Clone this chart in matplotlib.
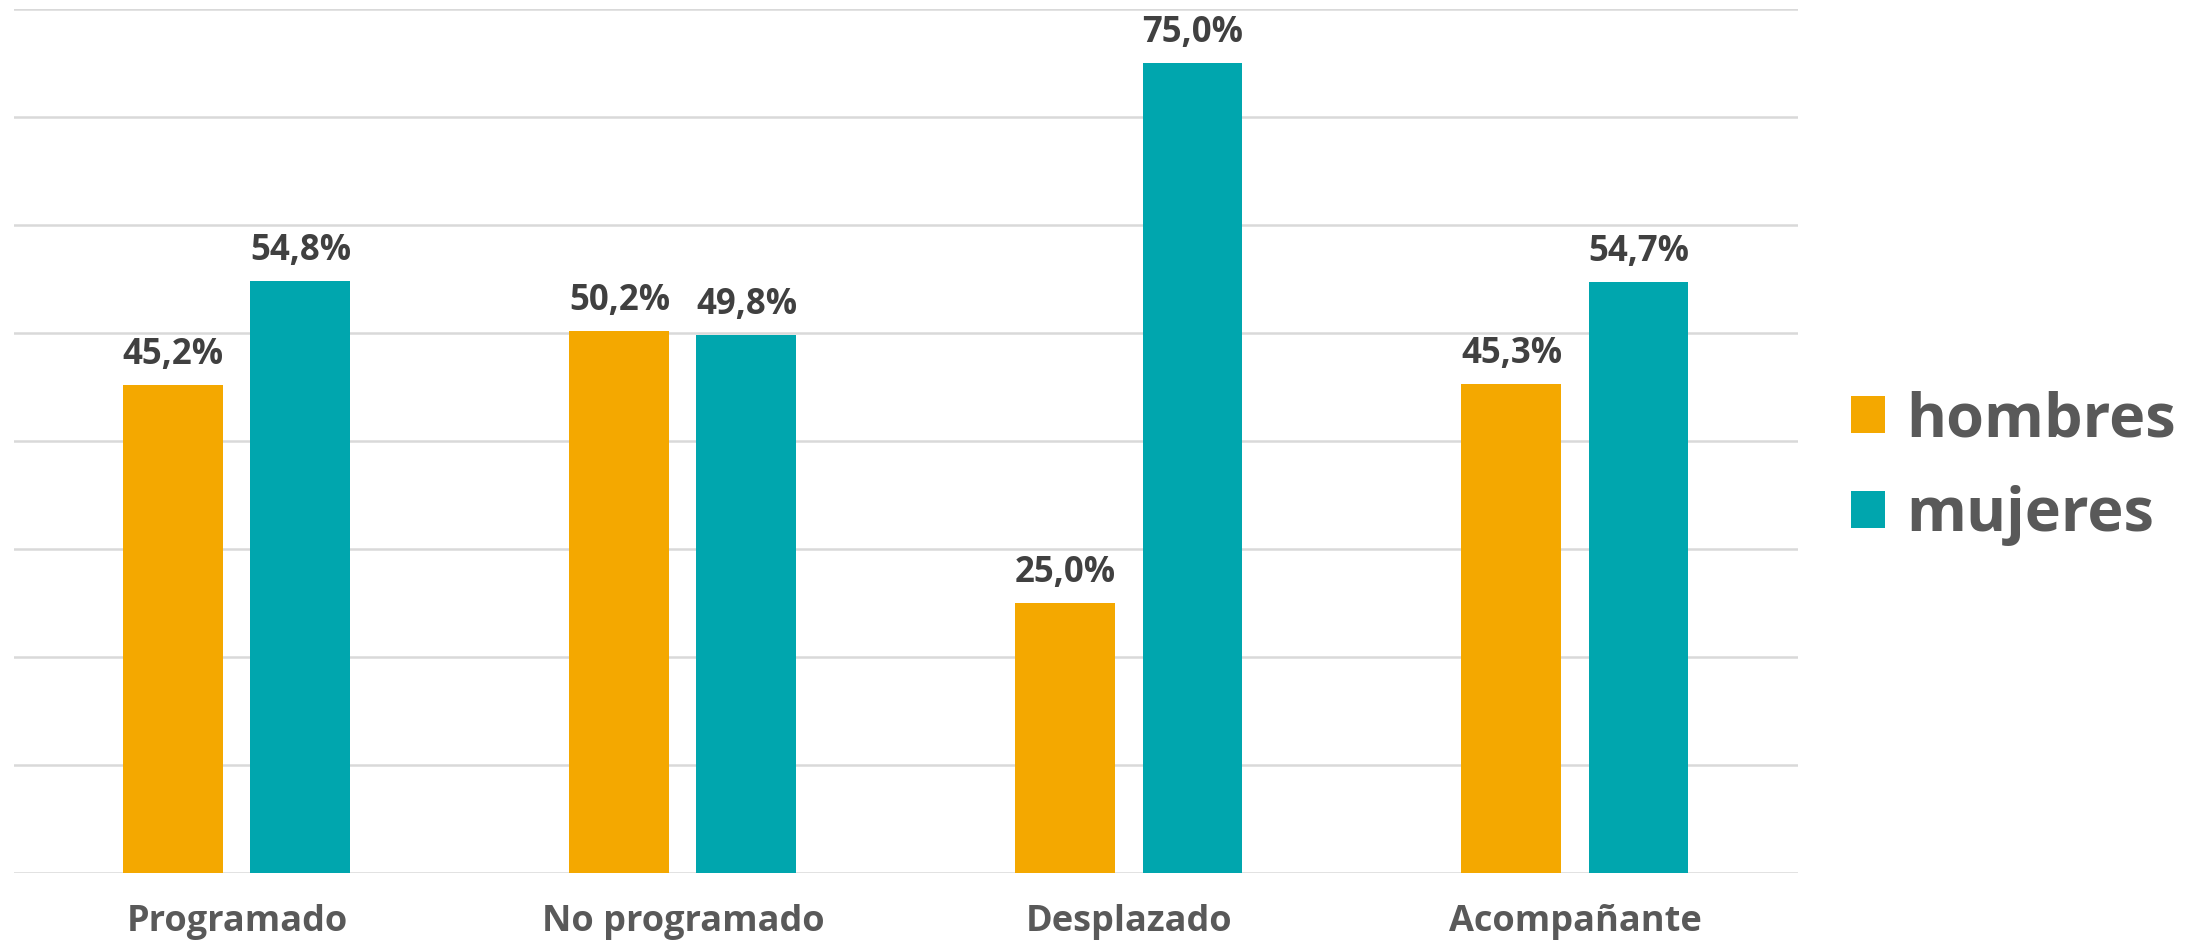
import matplotlib.pyplot as plt
import numpy as np

categorias = ['Programado', 'No programado', 'Desplazado', 'Acompañante']
hombres = [45.2, 50.2, 25.0, 45.3]
mujeres = [54.8, 49.8, 75.0, 54.7]
series = ['hombres', 'mujeres']
colores = ['#F4A800', '#00A6AE']

plt.rcParams['font.family'] = ['Open Sans', 'DejaVu Sans']

fig = plt.figure(figsize=(22.08, 9.43), dpi=100)
ax = fig.add_axes([0.0063, 0.0742, 0.808, 0.9162])

x = np.arange(len(categorias))
w = 0.224
off = 0.1424
b1 = ax.bar(x - off, hombres, w, color=colores[0], label=series[0], zorder=3)
b2 = ax.bar(x + off, mujeres, w, color=colores[1], label=series[1], zorder=3)

for bars, vals in ((b1, hombres), (b2, mujeres)):
    for r, v in zip(bars, vals):
        ax.annotate(f'{v:.1f}%'.replace('.', ','), (r.get_x() + r.get_width() / 2, v),
                    xytext=(0, 15), textcoords='offset points', ha='center', va='baseline',
                    fontsize=25, fontweight='bold', color='#404040')

ax.set_xlim(-0.5, 3.5)
ax.set_ylim(0, 80)
ax.set_yticks(np.arange(0, 81, 10))
ax.yaxis.grid(True, color='#d9d9d9', linewidth=1.8, zorder=0)
ax.tick_params(axis='y', left=False, labelleft=False)
ax.tick_params(axis='x', length=0, pad=22)
ax.set_xticks(x)
ax.set_xticklabels(categorias, fontsize=26, fontweight='bold', color='#595959')
for s in ax.spines.values():
    s.set_visible(False)

leg = fig.legend(loc='center left', bbox_to_anchor=(1851 / 2208, 1 - 468 / 943), frameon=False,
                 prop={'size': 44, 'weight': 'bold'}, handlelength=0.55, handleheight=0.55,
                 handletextpad=0.35, labelspacing=0.55, borderpad=0, borderaxespad=0)
for t in leg.get_texts():
    t.set_color('#595959')

fig.savefig('out.png', dpi=100, facecolor='white')
